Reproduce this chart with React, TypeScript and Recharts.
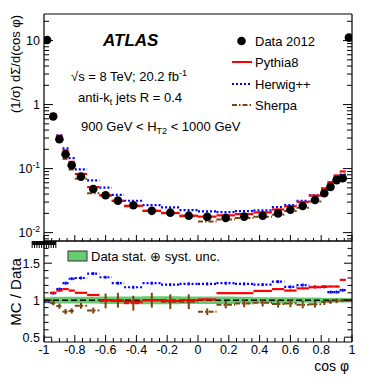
import React from "react";
import {
  ComposedChart,
  Scatter,
  ErrorBar,
  XAxis,
  YAxis,
  Area,
  ReferenceLine,
} from "recharts";

// bin edges in cos(phi), finer near the ends
const EDGES = [
  -1, -0.96, -0.92, -0.88, -0.84, -0.8, -0.72, -0.64, -0.56, -0.48, -0.36, -0.24, -0.12, 0,
  0.12, 0.24, 0.36, 0.48, 0.56, 0.64, 0.72, 0.8, 0.84, 0.88, 0.92, 0.96, 1,
];

const DATA_2012 = [
  10.2, 0.65, 0.288, 0.168, 0.113, 0.075, 0.048, 0.0384, 0.0316, 0.0268, 0.0219, 0.0205, 0.0184,
  0.0176, 0.017, 0.0178, 0.0184, 0.02, 0.0228, 0.026, 0.0323, 0.0413, 0.0518, 0.066, 0.0708, 11.1,
];

// MC / Data
const PYTHIA_RATIO = [
  0.99, 1.1, 1.13, 1.15, 1.13, 1.1, 1.07, 1.0, 0.99, 0.98, 1.0, 0.99, 1.0,
  1.01, 1.095, 1.095, 1.125, 1.15, 1.13, 1.16, 1.175, 1.185, 1.185, 1.185, 1.275, 1.0,
];
const HERWIG_RATIO = [
  0.98, 1.095, 1.15, 1.23, 1.29, 1.3, 1.36, 1.31, 1.23, 1.175, 1.23, 1.21, 1.22,
  1.22, 1.23, 1.22, 1.21, 1.25, 1.18, 1.205, 1.18, 1.18, 1.11, 1.11, 1.135, 1.0,
];
const SHERPA_RATIO = [
  1.0, 0.96, 0.92, 0.845, 0.855, 0.925, 0.86, 0.99, 1.0, 0.96, 1.0, 0.98, 0.98,
  0.845, 0.94, 0.955, 0.965, 0.95, 0.955, 0.94, 0.945, 0.975, 0.98, 0.99, 0.995, 1.0,
];
const SHERPA_ERR = [
  0.015, 0.03, 0.035, 0.035, 0.035, 0.04, 0.04, 0.1, 0.1, 0.1, 0.1, 0.1, 0.1,
  0.045, 0.05, 0.05, 0.05, 0.05, 0.05, 0.05, 0.045, 0.04, 0.03, 0.03, 0.02, 0.01,
];
const HERWIG_ERR = [
  0.01, 0.02, 0.02, 0.02, 0.02, 0.02, 0.02, 0.02, 0.02, 0.02, 0.02, 0.02, 0.02,
  0.02, 0.02, 0.02, 0.02, 0.02, 0.02, 0.02, 0.02, 0.02, 0.02, 0.02, 0.02, 0.01,
];
const PYTHIA_ERR = [
  0.005, 0.012, 0.012, 0.012, 0.012, 0.012, 0.012, 0.012, 0.012, 0.012, 0.012, 0.012, 0.012,
  0.012, 0.012, 0.012, 0.012, 0.012, 0.012, 0.012, 0.012, 0.012, 0.012, 0.012, 0.012, 0.005,
];
// data stat (+) syst uncertainty
const BAND_ERR = [
  0.04, 0.045, 0.045, 0.045, 0.045, 0.045, 0.045, 0.05, 0.05, 0.05, 0.055, 0.055, 0.05,
  0.05, 0.05, 0.045, 0.04, 0.04, 0.04, 0.035, 0.035, 0.03, 0.03, 0.03, 0.03, 0.03,
];

const X_MAJOR = [-1, -0.8, -0.6, -0.4, -0.2, 0, 0.2, 0.4, 0.6, 0.8, 1];
const X_LABELS = ["-1", "-0.8", "-0.6", "-0.4", "-0.2", "0", "0.2", "0.4", "0.6", "0.8", "1"];
const R_MAJOR = [0.5, 1, 1.5];
const R_LABELS = ["0.5", "1", "1.5"];
const LOG_MAJOR = [0.01, 0.1, 1, 10];

const LOG_DOMAIN: [number, number] = [0.0074, 26];
const R_DOMAIN: [number, number] = [0.435, 1.8];

const FONT = "'Liberation Sans', Arial, Helvetica, sans-serif";
const RED = "#ff0000";
const BLUE = "#0000ff";
const BROWN = "#7a4510";
const GREEN = "#66cc70";

const centers = EDGES.slice(0, -1).map((e, i) => (e + EDGES[i + 1]) / 2);
const halfW = EDGES.slice(0, -1).map((e, i) => (EDGES[i + 1] - e) / 2);

const dataRows = DATA_2012.map((v, i) => ({ x: centers[i], y: v }));
const mcRows = (ratio: number[]) =>
  ratio.map((r, i) => ({ x: centers[i], y: DATA_2012[i] * r, xe: halfW[i] }));
const ratioRows = (ratio: number[], err: number[]) =>
  ratio.map((r, i) => ({ x: centers[i], y: r, xe: halfW[i], ye: err[i] }));
const bandRows = EDGES.map((e, i) => {
  const k = Math.min(i, BAND_ERR.length - 1);
  return { x: e, band: [1 - BAND_ERR[k], 1 + BAND_ERR[k]] };
});

// axis tick positions (minor + major)
const X_TICKS = Array.from({ length: 41 }, (_, i) => +(-1 + i * 0.05).toFixed(2));
const R_TICKS = Array.from({ length: 13 }, (_, i) => +(0.5 + i * 0.1).toFixed(1));
const LOG_TICKS: number[] = [];
[0.001, 0.01, 0.1, 1, 10].forEach((d) => {
  for (let m = 1; m <= 9; m++) {
    const v = +(m * d).toPrecision(3);
    if (v >= LOG_DOMAIN[0] && v <= LOG_DOMAIN[1]) LOG_TICKS.push(v);
  }
});

const near = (list: number[], v: number) => list.findIndex((m) => Math.abs(m - v) < 1e-6);

const tickFont = { fontFamily: FONT, fontSize: 12.5, fill: "#000" };

function logLabel(v: number) {
  if (v === 10) return <tspan>10</tspan>;
  if (v === 1) return <tspan>1</tspan>;
  const exp = Math.round(Math.log10(v));
  return (
    <>
      <tspan>10</tspan>
      <tspan dy={-5} fontSize={8.5}>{String(exp)}</tspan>
    </>
  );
}

// ticks are drawn inward, ROOT style
function makeTick(
  side: "left" | "right" | "top" | "bottom",
  majors: number[],
  maj: number,
  min: number,
  label?: (v: number, i: number) => React.ReactNode
) {
  return (p: any) => {
    const { x, y } = p;
    const v = p.payload.value;
    const idx = near(majors, v);
    const len = idx >= 0 ? maj : min;
    let line;
    if (side === "left") line = <line x1={x} x2={x + len} y1={y} y2={y} stroke="#000" />;
    else if (side === "right") line = <line x1={x} x2={x - len} y1={y} y2={y} stroke="#000" />;
    else if (side === "top") line = <line x1={x} x2={x} y1={y} y2={y + len} stroke="#000" />;
    else line = <line x1={x} x2={x} y1={y} y2={y - len} stroke="#000" />;
    let text = null;
    if (label && idx >= 0) {
      if (side === "left")
        text = (
          <text x={x - 4} y={y} dy={4.4} textAnchor="end" {...tickFont}>
            {label(v, idx)}
          </text>
        );
      else if (side === "bottom")
        text = (
          <text x={x} y={y} dy={12} textAnchor="middle" {...tickFont}>
            {label(v, idx)}
          </text>
        );
    }
    return (
      <g>
        {line}
        {text}
      </g>
    );
  };
}

const noShape = () => <g />;
const dataDot = (p: any) => <circle cx={p.cx} cy={p.cy} r={4.3} fill="#000" />;

const axisLine = { stroke: "#000", strokeWidth: 1.2 };

function UpperPanel() {
  return (
    <ComposedChart width={371} height={242} margin={{ top: 13, right: 18, bottom: 0, left: 0 }}>
      <XAxis
        dataKey="x"
        type="number"
        domain={[-1, 1]}
        allowDataOverflow
        ticks={X_TICKS}
        interval={0}
        height={1}
        tickSize={0}
        tickMargin={0}
        tickLine={false}
        axisLine={axisLine}
        tick={makeTick("bottom", X_MAJOR, 6, 3)}
      />
      <XAxis
        xAxisId="t"
        orientation="top"
        type="number"
        domain={[-1, 1]}
        allowDataOverflow
        ticks={X_TICKS}
        interval={0}
        height={1}
        tickSize={0}
        tickMargin={0}
        tickLine={false}
        axisLine={axisLine}
        tick={makeTick("top", X_MAJOR, 6, 3)}
      />
      <YAxis
        dataKey="y"
        type="number"
        scale="log"
        domain={LOG_DOMAIN}
        allowDataOverflow
        ticks={LOG_TICKS}
        interval={0}
        width={44}
        tickSize={0}
        tickMargin={0}
        tickLine={false}
        axisLine={axisLine}
        tick={makeTick("left", LOG_MAJOR, 9, 5, (v) => logLabel(v))}
      />
      <YAxis
        yAxisId="r"
        orientation="right"
        type="number"
        scale="log"
        domain={LOG_DOMAIN}
        allowDataOverflow
        ticks={LOG_TICKS}
        interval={0}
        width={1}
        tickSize={0}
        tickMargin={0}
        tickLine={false}
        axisLine={axisLine}
        tick={makeTick("right", LOG_MAJOR, 9, 5)}
      />
      <Scatter data={mcRows(SHERPA_RATIO)} shape={noShape} isAnimationActive={false}>
        <ErrorBar dataKey="xe" direction="x" width={0} stroke={BROWN} strokeWidth={2} strokeDasharray="5 2 1.5 2" isAnimationActive={false} />
      </Scatter>
      <Scatter data={mcRows(HERWIG_RATIO)} shape={noShape} isAnimationActive={false}>
        <ErrorBar dataKey="xe" direction="x" width={0} stroke={BLUE} strokeWidth={2.2} strokeDasharray="2 2" isAnimationActive={false} />
      </Scatter>
      <Scatter data={mcRows(PYTHIA_RATIO)} shape={noShape} isAnimationActive={false}>
        <ErrorBar dataKey="xe" direction="x" width={0} stroke={RED} strokeWidth={2.2} isAnimationActive={false} />
      </Scatter>
      <Scatter data={dataRows} shape={dataDot} isAnimationActive={false} />
    </ComposedChart>
  );
}

function LowerPanel() {
  return (
    <ComposedChart
      width={371}
      height={142}
      data={bandRows}
      margin={{ top: 0, right: 18, bottom: 0, left: 0 }}
    >
      <XAxis
        dataKey="x"
        type="number"
        domain={[-1, 1]}
        allowDataOverflow
        ticks={X_TICKS}
        interval={0}
        height={40}
        tickSize={0}
        tickMargin={0}
        tickLine={false}
        axisLine={axisLine}
        tick={makeTick("bottom", X_MAJOR, 7, 4, (_v, i) => X_LABELS[i])}
      />
      <XAxis
        xAxisId="t"
        orientation="top"
        type="number"
        domain={[-1, 1]}
        allowDataOverflow
        ticks={X_TICKS}
        interval={0}
        height={1}
        tickSize={0}
        tickMargin={0}
        tickLine={false}
        axisLine={axisLine}
        tick={makeTick("top", X_MAJOR, 7, 4)}
      />
      <YAxis
        dataKey="y"
        type="number"
        domain={R_DOMAIN}
        allowDataOverflow
        ticks={R_TICKS}
        interval={0}
        width={44}
        tickSize={0}
        tickMargin={0}
        tickLine={false}
        axisLine={axisLine}
        tick={makeTick("left", R_MAJOR, 8, 4.5, (_v, i) => R_LABELS[i])}
      />
      <YAxis
        yAxisId="r"
        orientation="right"
        type="number"
        domain={R_DOMAIN}
        allowDataOverflow
        ticks={R_TICKS}
        interval={0}
        width={1}
        tickSize={0}
        tickMargin={0}
        tickLine={false}
        axisLine={axisLine}
        tick={makeTick("right", R_MAJOR, 8, 4.5)}
      />
      <Area
        dataKey="band"
        type="stepAfter"
        stroke="none"
        fill={GREEN}
        fillOpacity={1}
        isAnimationActive={false}
      />
      <ReferenceLine y={1} stroke="#000" strokeWidth={1.5} strokeDasharray="6 3" />
      <Scatter data={ratioRows(SHERPA_RATIO, SHERPA_ERR)} shape={noShape} isAnimationActive={false}>
        <ErrorBar dataKey="ye" direction="y" width={0} stroke={BROWN} strokeWidth={2} isAnimationActive={false} />
        <ErrorBar dataKey="xe" direction="x" width={0} stroke={BROWN} strokeWidth={2} strokeDasharray="5 2 1.5 2" isAnimationActive={false} />
      </Scatter>
      <Scatter data={ratioRows(HERWIG_RATIO, HERWIG_ERR)} shape={noShape} isAnimationActive={false}>
        <ErrorBar dataKey="ye" direction="y" width={0} stroke={BLUE} strokeWidth={2} isAnimationActive={false} />
        <ErrorBar dataKey="xe" direction="x" width={0} stroke={BLUE} strokeWidth={2.2} strokeDasharray="2 2" isAnimationActive={false} />
      </Scatter>
      <Scatter data={ratioRows(PYTHIA_RATIO, PYTHIA_ERR)} shape={noShape} isAnimationActive={false}>
        <ErrorBar dataKey="ye" direction="y" width={0} stroke={RED} strokeWidth={1.5} isAnimationActive={false} />
        <ErrorBar dataKey="xe" direction="x" width={0} stroke={RED} strokeWidth={2.2} isAnimationActive={false} />
      </Scatter>
    </ComposedChart>
  );
}

function Annotations() {
  const t = { fontFamily: FONT, fontSize: 13, fill: "#000" };
  const legendRows = [
    { label: "Data 2012", y: 41 },
    { label: "Pythia8", y: 62 },
    { label: "Herwig++", y: 84 },
    { label: "Sherpa", y: 105 },
  ];
  return (
    <svg
      width={371}
      height={382}
      style={{ position: "absolute", left: 0, top: 0, pointerEvents: "none" }}
    >
      <text x={103} y={46} fontFamily={FONT} fontSize={17} fontWeight="bold" fontStyle="italic">
        ATLAS
      </text>
      <text x={71} y={80.5} {...t}>
        √s = 8 TeV; 20.2 fb<tspan dy={-5} fontSize={9}>-1</tspan>
      </text>
      <text x={78} y={101.5} {...t}>
        anti-k<tspan dy={3} fontSize={9}>t</tspan>
        <tspan dy={-3}> jets R = 0.4</tspan>
      </text>
      <text x={81} y={130.5} {...t}>
        900 GeV &lt; H<tspan dy={3} fontSize={9}>T2</tspan>
        <tspan dy={-3}> &lt; 1000 GeV</tspan>
      </text>

      {/* legend */}
      <circle cx={241.5} cy={legendRows[0].y} r={4.3} fill="#000" />
      <line x1={232} x2={252} y1={legendRows[1].y} y2={legendRows[1].y} stroke={RED} strokeWidth={2} />
      <line x1={232} x2={252} y1={legendRows[2].y} y2={legendRows[2].y} stroke={BLUE} strokeWidth={2} strokeDasharray="2 2" />
      <line x1={232} x2={252} y1={legendRows[3].y} y2={legendRows[3].y} stroke={BROWN} strokeWidth={2} strokeDasharray="5 2 1.5 2" />
      {legendRows.map((r) => (
        <text key={r.label} x={255} y={r.y + 4.7} {...t}>
          {r.label}
        </text>
      ))}

      <rect x={68} y={251} width={19} height={10} fill={GREEN} stroke="#333" strokeWidth={1} />
      <text x={91} y={260.5} {...t}>
        Data stat. ⊕ syst. unc.
      </text>

      <text transform="translate(20,64) rotate(-90)" textAnchor="middle" {...t}>
        (1/σ) dΣ/d(cos φ)
      </text>
      <text transform="translate(20.5,292) rotate(-90)" textAnchor="middle" {...t} fontSize={15}>
        MC / Data
      </text>
      <text x={349} y={371} textAnchor="end" {...t} fontSize={14}>
        cos φ
      </text>
    </svg>
  );
}

export default function App() {
  return (
    <div
      style={{
        position: "absolute",
        left: 0,
        top: 0,
        width: 371,
        height: 382,
        background: "#fff",
        overflow: "hidden",
      }}
    >
      <div style={{ position: "absolute", left: 0, top: 0 }}>
        <UpperPanel />
      </div>
      <div style={{ position: "absolute", left: 0, top: 240 }}>
        <LowerPanel />
      </div>
      <Annotations />
    </div>
  );
}
